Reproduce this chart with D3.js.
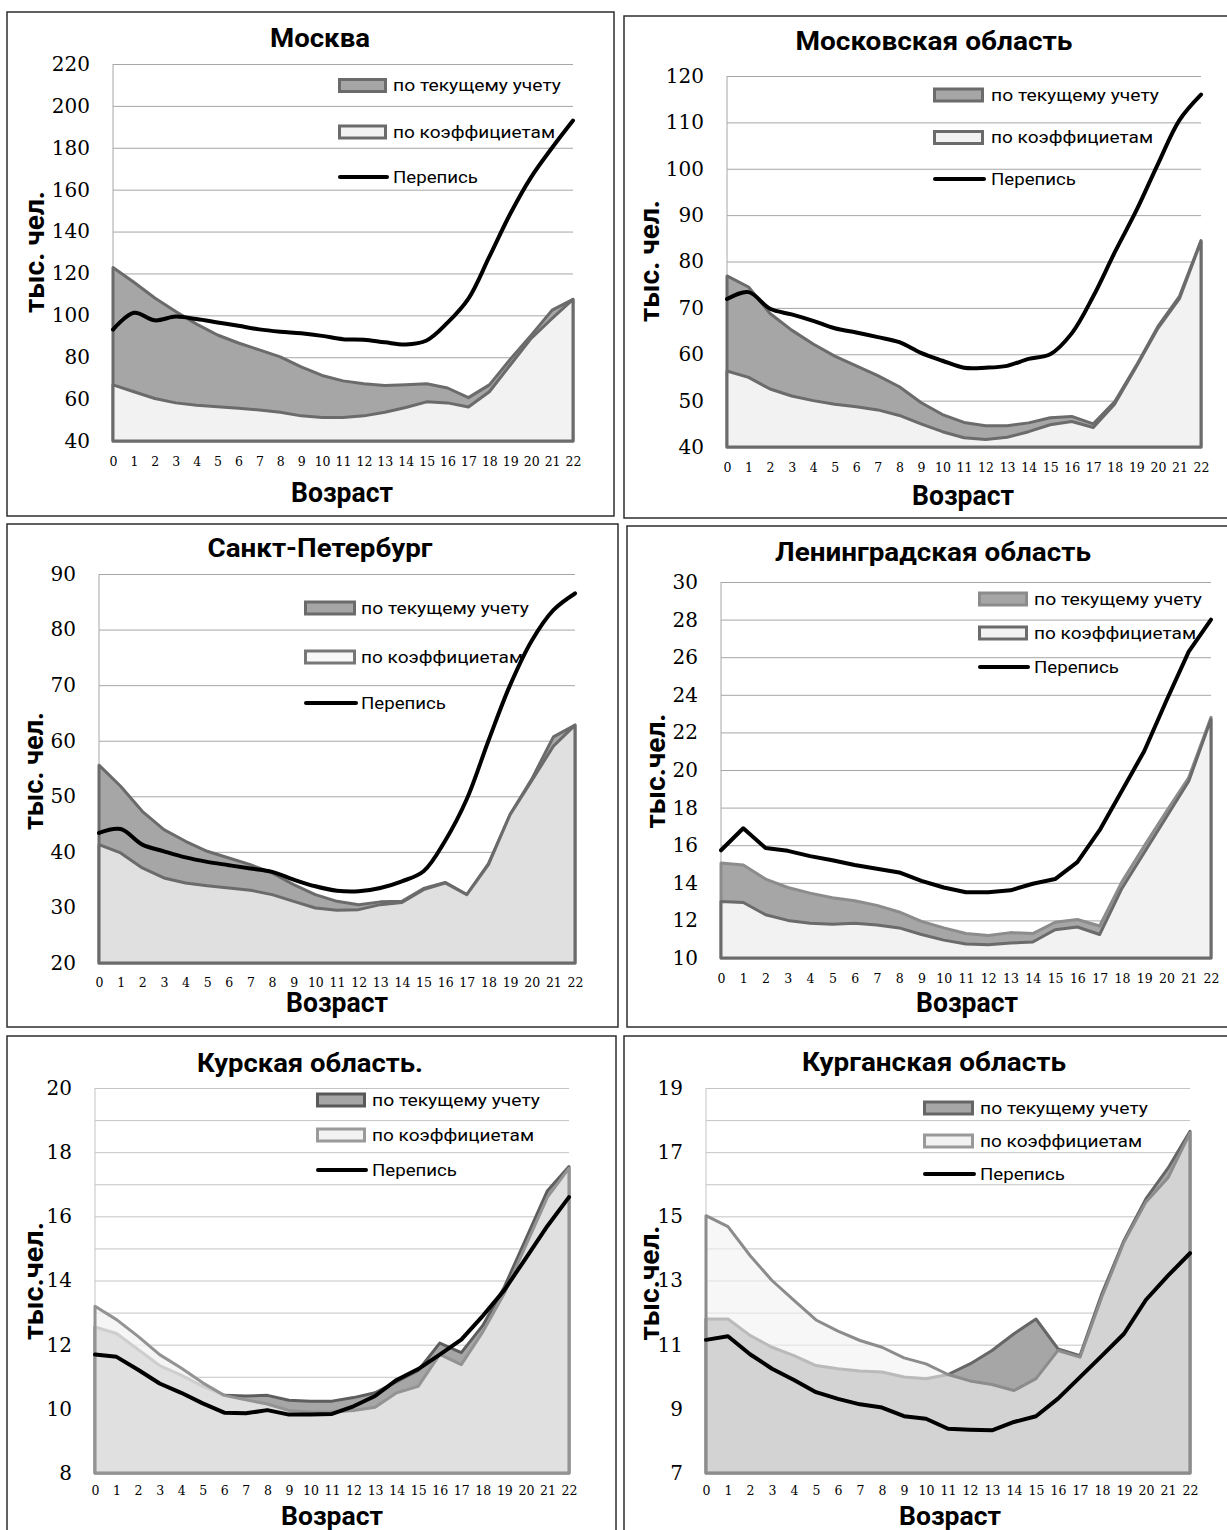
<!DOCTYPE html>
<html>
<head>
<meta charset="utf-8">
<script src="https://cdn.jsdelivr.net/npm/d3@7"></script>
<style>
  body { margin: 0; background: #fff; }
  text { font-family: Roboto, "Noto Sans", sans-serif; }
</style>
</head>
<body>
<svg id="chart" width="1227" height="1530"></svg>
<script>
// ---- data ----
const ages = [0,1,2,3,4,5,6,7,8,9,10,11,12,13,14,15,16,17,18,19,20,21,22];
const seriesNames = ["по текущему учету", "по коэффициетам", "Перепись"];
const xTitle = "Возраст";

// Москва
const moscowTicks = [40,60,80,100,120,140,160,180,200,220];
const moscowCurrent = [122.8,115.8,108.3,101.8,95.8,90.6,86.8,83.5,80.2,75.4,71.3,68.7,67.3,66.5,66.9,67.3,65.3,60.7,66.8,79,90.5,102.5,107.6];
const moscowCoef    = [66.8,63.5,60.3,58.2,57.1,56.3,55.6,54.8,53.7,52,51.2,51.2,52,53.7,56,58.7,58.2,56.2,63.5,76.3,89,98.5,107.6];
const moscowCensus  = [93.2,101.2,97.6,99.4,98.2,96.6,95,93.3,92.2,91.4,90.2,88.6,88.3,87.1,86.1,88,96.5,108,128,148.5,166,180,193];

// Московская область
const mosRegionTicks = [40,50,60,70,80,90,100,110,120];
const mosRegionCurrent = [76.9,74.5,68.8,65.2,62.2,59.6,57.5,55.4,53,49.6,47,45.3,44.6,44.6,45.2,46.3,46.6,45,49.8,57.6,66,72.5,84.5];
const mosRegionCoef    = [56.4,55,52.5,51,50,49.2,48.7,48,46.8,45,43.3,42,41.6,42.1,43.3,44.8,45.5,44.2,49.3,57.3,65.6,72,84.3];
const mosRegionCensus  = [71.9,73.4,69.8,68.6,67.2,65.6,64.7,63.7,62.6,60.3,58.6,57.1,57.1,57.5,59,60,64.5,72.5,82,91,101,110.5,116];

// Санкт-Петербург
const spbTicks = [20,30,40,50,60,70,80,90];
const spbCurrent = [55.6,51.8,47.3,44,41.9,40.1,38.9,37.7,36.2,34.1,32.3,31.1,30.5,31,31.1,33.4,34.5,32.3,37.9,46.7,53.1,60.7,62.8];
const spbCoef    = [41.3,39.8,37.1,35.3,34.4,33.9,33.5,33.1,32.3,31.1,29.9,29.5,29.6,30.5,30.9,33.2,34.4,32.3,37.7,46.7,52.8,59,62.8];
const spbCensus  = [43.4,44.1,41.3,40.1,39,38.2,37.6,37,36.4,35,33.8,33,32.9,33.5,34.7,36.5,42,49.5,60,70,78,83.5,86.5];

// Ленинградская область
const lenTicks = [10,12,14,16,18,20,22,24,26,28,30];
const lenCurrent = [15.05,14.95,14.2,13.75,13.45,13.2,13.05,12.8,12.45,11.95,11.6,11.3,11.2,11.35,11.3,11.9,12.05,11.7,14.05,15.95,17.8,19.6,22.8];
const lenCoef    = [13,12.95,12.3,12,11.85,11.8,11.85,11.75,11.6,11.25,10.95,10.75,10.7,10.8,10.85,11.5,11.65,11.25,13.7,15.6,17.5,19.4,22.7];
const lenCensus  = [15.73,16.9,15.85,15.7,15.42,15.2,14.95,14.75,14.55,14.1,13.75,13.5,13.5,13.6,13.95,14.2,15.1,16.8,18.9,21,23.7,26.3,28];

// Курская область
const kurskTicks = [8,10,12,14,16,18,20];
const kurskGrid  = [8,9,10,11,12,13,14,15,16,17,18,19,20];
const kurskCurrent = [12.55,12.35,11.85,11.35,11.05,10.7,10.42,10.4,10.42,10.27,10.24,10.24,10.35,10.5,10.85,11.2,12.05,11.75,12.6,13.8,15.3,16.8,17.55];
const kurskCoef    = [13.2,12.78,12.26,11.69,11.27,10.81,10.42,10.28,10.15,9.95,9.9,9.9,9.95,10.05,10.5,10.7,11.7,11.38,12.4,13.6,15.1,16.6,17.5];
const kurskCensus  = [11.69,11.62,11.22,10.79,10.5,10.17,9.88,9.86,9.96,9.82,9.82,9.84,10.08,10.4,10.9,11.24,11.69,12.16,12.9,13.7,14.7,15.7,16.6];

// Курганская область
const kurganTicks = [7,9,11,13,15,17,19];
const kurganGrid  = [7,8,9,10,11,12,13,14,15,16,17,18,19];
const kurganCurrent = [11.8,11.8,11.29,10.92,10.66,10.35,10.25,10.18,10.15,9.99,9.94,10.07,10.4,10.82,11.34,11.8,10.87,10.66,12.6,14.25,15.55,16.5,17.65];
const kurganCoef    = [15.02,14.68,13.78,13,12.38,11.77,11.42,11.13,10.92,10.59,10.4,10.07,9.87,9.76,9.57,9.94,10.82,10.61,12.5,14.2,15.45,16.2,17.6];
const kurganCensus  = [11.15,11.26,10.7,10.25,9.9,9.52,9.31,9.14,9.04,8.77,8.69,8.38,8.35,8.33,8.59,8.77,9.32,9.99,10.66,11.34,12.4,13.15,13.85];

// ---- layout / styles ----
const styleA = { aFill: "#a6a6a6", aStroke: "#6b6b6b", bFill: "#f2f2f2", bStroke: "#6b6b6b", bOpacity: 1, grid: "#a6a6a6" };
const panels = [
  { title: "Москва", yTitle: "тыс. чел.", current: moscowCurrent, coef: moscowCoef, census: moscowCensus,
    ticks: moscowTicks, grid: moscowTicks, smooth: true,
    frame: [7, 12, 614, 516], plot: [113, 64, 573, 441],
    titleX: 320, titleY: 47, titleW: 100, xTitleX: 342, xTitleY: 502, xTitleSize: 27, xPad: 16,
    yTitleX: 44, yTitleY: 252, yTitleW: 122,
    legend: { x: 338, w: 49, rows: [85.5, 132, 177], textX: 393 },
    style: styleA, lgA: ["#6b6b6b", "#a6a6a6"], lgB: ["#6b6b6b", "#f2f2f2"] },
  { title: "Московская область", yTitle: "тыс. чел.", current: mosRegionCurrent, coef: mosRegionCoef, census: mosRegionCensus,
    ticks: mosRegionTicks, grid: mosRegionTicks, smooth: true,
    frame: [624, 16, 1230, 518], plot: [727, 76, 1201, 447],
    titleX: 934, titleY: 50, titleW: 277, xTitleX: 963, xTitleY: 505, xTitleSize: 27, xPad: 16,
    yTitleX: 659, yTitleY: 261, yTitleW: 122,
    legend: { x: 933, w: 51, rows: [95, 137.5, 179], textX: 991 },
    style: styleA, lgA: ["#6b6b6b", "#a6a6a6"], lgB: ["#6b6b6b", "#f2f2f2"] },
  { title: "Санкт-Петербург", yTitle: "тыс. чел.", current: spbCurrent, coef: spbCoef, census: spbCensus,
    ticks: spbTicks, grid: spbTicks, smooth: true,
    frame: [7, 524, 618, 1027], plot: [99, 574, 575, 963],
    titleX: 320, titleY: 557, titleW: 225, xTitleX: 337, xTitleY: 1012, xTitleSize: 27, xPad: 15,
    yTitleX: 43, yTitleY: 771, yTitleW: 118,
    legend: { x: 304, w: 52, rows: [608, 657, 703], textX: 361 },
    style: { aFill: "#a6a6a6", aStroke: "#6b6b6b", bFill: "#f2f2f2", bStroke: "#6b6b6b", bOpacity: 0.76, grid: "#a6a6a6" },
    lgA: ["#6b6b6b", "#a6a6a6"], lgB: ["#777777", "#f8f8f8"] },
  { title: "Ленинградская область", yTitle: "тыс.чел.", current: lenCurrent, coef: lenCoef, census: lenCensus,
    ticks: lenTicks, grid: lenTicks, smooth: false,
    frame: [627, 526, 1230, 1027], plot: [721, 582, 1211, 958],
    titleX: 933, titleY: 561, titleW: 316, xTitleX: 967, xTitleY: 1012, xTitleSize: 27, xPad: 16,
    yTitleX: 665, yTitleY: 771, yTitleW: 115,
    legend: { x: 978, w: 50, rows: [599, 633, 667], textX: 1034 },
    style: { aFill: "#a6a6a6", aStroke: "#8c8c8c", bFill: "#f2f2f2", bStroke: "#6b6b6b", bOpacity: 1, grid: "#a6a6a6" },
    lgA: ["#8c8c8c", "#a6a6a6"], lgB: ["#6b6b6b", "#f2f2f2"] },
  { title: "Курская область.", yTitle: "тыс.чел.", current: kurskCurrent, coef: kurskCoef, census: kurskCensus,
    ticks: kurskTicks, grid: kurskGrid, smooth: false,
    frame: [7, 1036, 616, 1535], plot: [95, 1088, 569, 1473],
    titleX: 310, titleY: 1072, titleW: 226, xTitleX: 332, xTitleY: 1525, xTitleSize: 25, xPad: 13,
    yTitleX: 43, yTitleY: 1281, yTitleW: 118,
    legend: { x: 316, w: 50, rows: [1100, 1135, 1170], textX: 372 },
    style: { aFill: "#a6a6a6", aStroke: "#5e5e5e", bFill: "#f2f2f2", bStroke: "#939393", bOpacity: 0.76, grid: "#c4c4c4" },
    lgA: ["#595959", "#a6a6a6"], lgB: ["#9a9a9a", "#f2f2f2"] },
  { title: "Курганская область", yTitle: "тыс.чел.", current: kurganCurrent, coef: kurganCoef, census: kurganCensus,
    ticks: kurganTicks, grid: kurganGrid, smooth: false,
    frame: [624, 1036, 1230, 1535], plot: [706, 1088, 1190, 1473],
    titleX: 934, titleY: 1071, titleW: 264, xTitleX: 950, xTitleY: 1525, xTitleSize: 25, xPad: 13,
    yTitleX: 659, yTitleY: 1283, yTitleW: 115,
    legend: { x: 923, w: 51, rows: [1108, 1141, 1174], textX: 980 },
    style: { aFill: "#a6a6a6", aStroke: "#666666", bFill: "#f2f2f2", bStroke: "#8c8c8c", bOpacity: 0.6, grid: "#c4c4c4" },
    lgA: ["#666666", "#a6a6a6"], lgB: ["#999999", "#f2f2f2"] }
];

const svg = d3.select("#chart");
svg.append("rect").attr("width", 1227).attr("height", 1530).attr("fill", "#fff");

function fitText(sel, w) {
  sel.attr("textLength", w).attr("lengthAdjust", "spacingAndGlyphs");
}

function drawPanel(p) {
  const st = p.style;
  const g = svg.append("g");

  g.append("rect")
    .attr("x", p.frame[0]).attr("y", p.frame[1])
    .attr("width", p.frame[2] - p.frame[0]).attr("height", p.frame[3] - p.frame[1])
    .attr("fill", "#fff").attr("stroke", "#2e2e2e").attr("stroke-width", 1.5);

  const x = d3.scaleLinear().domain(d3.extent(ages)).range([p.plot[0], p.plot[2]]);
  const y = d3.scaleLinear().domain(d3.extent(p.ticks)).range([p.plot[3], p.plot[1]]);
  const yMin = y.domain()[0];

  // gridlines
  g.append("g")
    .attr("transform", `translate(${p.plot[0]},0)`)
    .call(d3.axisLeft(y).tickValues(p.grid).tickSize(-(p.plot[2] - p.plot[0])).tickFormat(""))
    .call(a => a.select(".domain").remove())
    .selectAll("line").attr("stroke", st.grid).attr("stroke-width", 1);

  g.append("line")
    .attr("x1", x(0)).attr("x2", x(0)).attr("y1", y(y.domain()[1])).attr("y2", y(yMin))
    .attr("stroke", st.grid);

  const area = d3.area()
    .x((d, i) => x(ages[i]))
    .y0(y(yMin))
    .y1(d => y(d));

  g.append("path").datum(p.current)
    .attr("d", area)
    .attr("fill", st.aFill)
    .attr("stroke", st.aStroke).attr("stroke-width", 3).attr("stroke-linejoin", "round");

  g.append("path").datum(p.coef)
    .attr("d", area)
    .attr("fill", st.bFill).attr("fill-opacity", st.bOpacity)
    .attr("stroke", st.bStroke).attr("stroke-width", 3).attr("stroke-linejoin", "round");

  const line = d3.line()
    .x((d, i) => x(ages[i]))
    .y(d => y(d))
    .curve(p.smooth ? d3.curveCatmullRom.alpha(0.5) : d3.curveLinear);

  g.append("path").datum(p.census)
    .attr("d", line)
    .attr("fill", "none").attr("stroke", "#000").attr("stroke-width", 4)
    .attr("stroke-linejoin", "round").attr("stroke-linecap", "round");

  // y tick labels
  const yAxis = g.append("g")
    .attr("transform", `translate(${p.plot[0]},0)`)
    .call(d3.axisLeft(y).tickValues(p.ticks).tickSize(0).tickPadding(23));
  yAxis.select(".domain").remove();
  yAxis.selectAll("text")
    .style("font-family", "'DejaVu Serif', serif").style("font-size", "20px").attr("fill", "#000");

  // x tick labels
  const xAxis = g.append("g")
    .attr("transform", `translate(0,${p.plot[3]})`)
    .call(d3.axisBottom(x).tickValues(ages).tickSize(0).tickPadding(p.xPad).tickFormat(d3.format("d")));
  xAxis.select(".domain").remove();
  xAxis.selectAll("text")
    .style("font-family", "'DejaVu Serif', serif").style("font-size", "12.5px").attr("fill", "#000");

  // titles
  g.append("text")
    .attr("x", p.titleX).attr("y", p.titleY)
    .attr("text-anchor", "middle")
    .style("font-size", "25px").style("font-weight", "bold")
    .text(p.title)
    .call(fitText, p.titleW);

  g.append("text")
    .attr("x", p.xTitleX).attr("y", p.xTitleY)
    .attr("text-anchor", "middle")
    .style("font-size", p.xTitleSize + "px").style("font-weight", "bold")
    .text(xTitle)
    .call(fitText, 102);

  g.append("text")
    .attr("transform", `translate(${p.yTitleX},${p.yTitleY}) rotate(-90)`)
    .attr("text-anchor", "middle")
    .style("font-size", "27px").style("font-weight", "bold")
    .text(p.yTitle)
    .call(fitText, p.yTitleW);

  // legend
  const L = p.legend;
  const lg = g.append("g");
  const swatches = [p.lgA, p.lgB];
  swatches.forEach((c, i) => {
    lg.append("rect")
      .attr("x", L.x + 1.5).attr("y", L.rows[i] - 6)
      .attr("width", L.w - 3).attr("height", 12)
      .attr("fill", c[1]).attr("stroke", c[0]).attr("stroke-width", 3);
  });
  lg.append("line")
    .attr("x1", L.x + 2).attr("x2", L.x + L.w).attr("y1", L.rows[2]).attr("y2", L.rows[2])
    .attr("stroke", "#000").attr("stroke-width", 4).attr("stroke-linecap", "round");
  const widths = [168, 162, 85];
  seriesNames.forEach((name, i) => {
    lg.append("text")
      .attr("x", L.textX).attr("y", L.rows[i])
      .attr("dy", "0.35em")
      .style("font-size", "17px")
      .text(name)
      .call(fitText, widths[i]);
  });
}

panels.forEach(drawPanel);
</script>
</body>
</html>
